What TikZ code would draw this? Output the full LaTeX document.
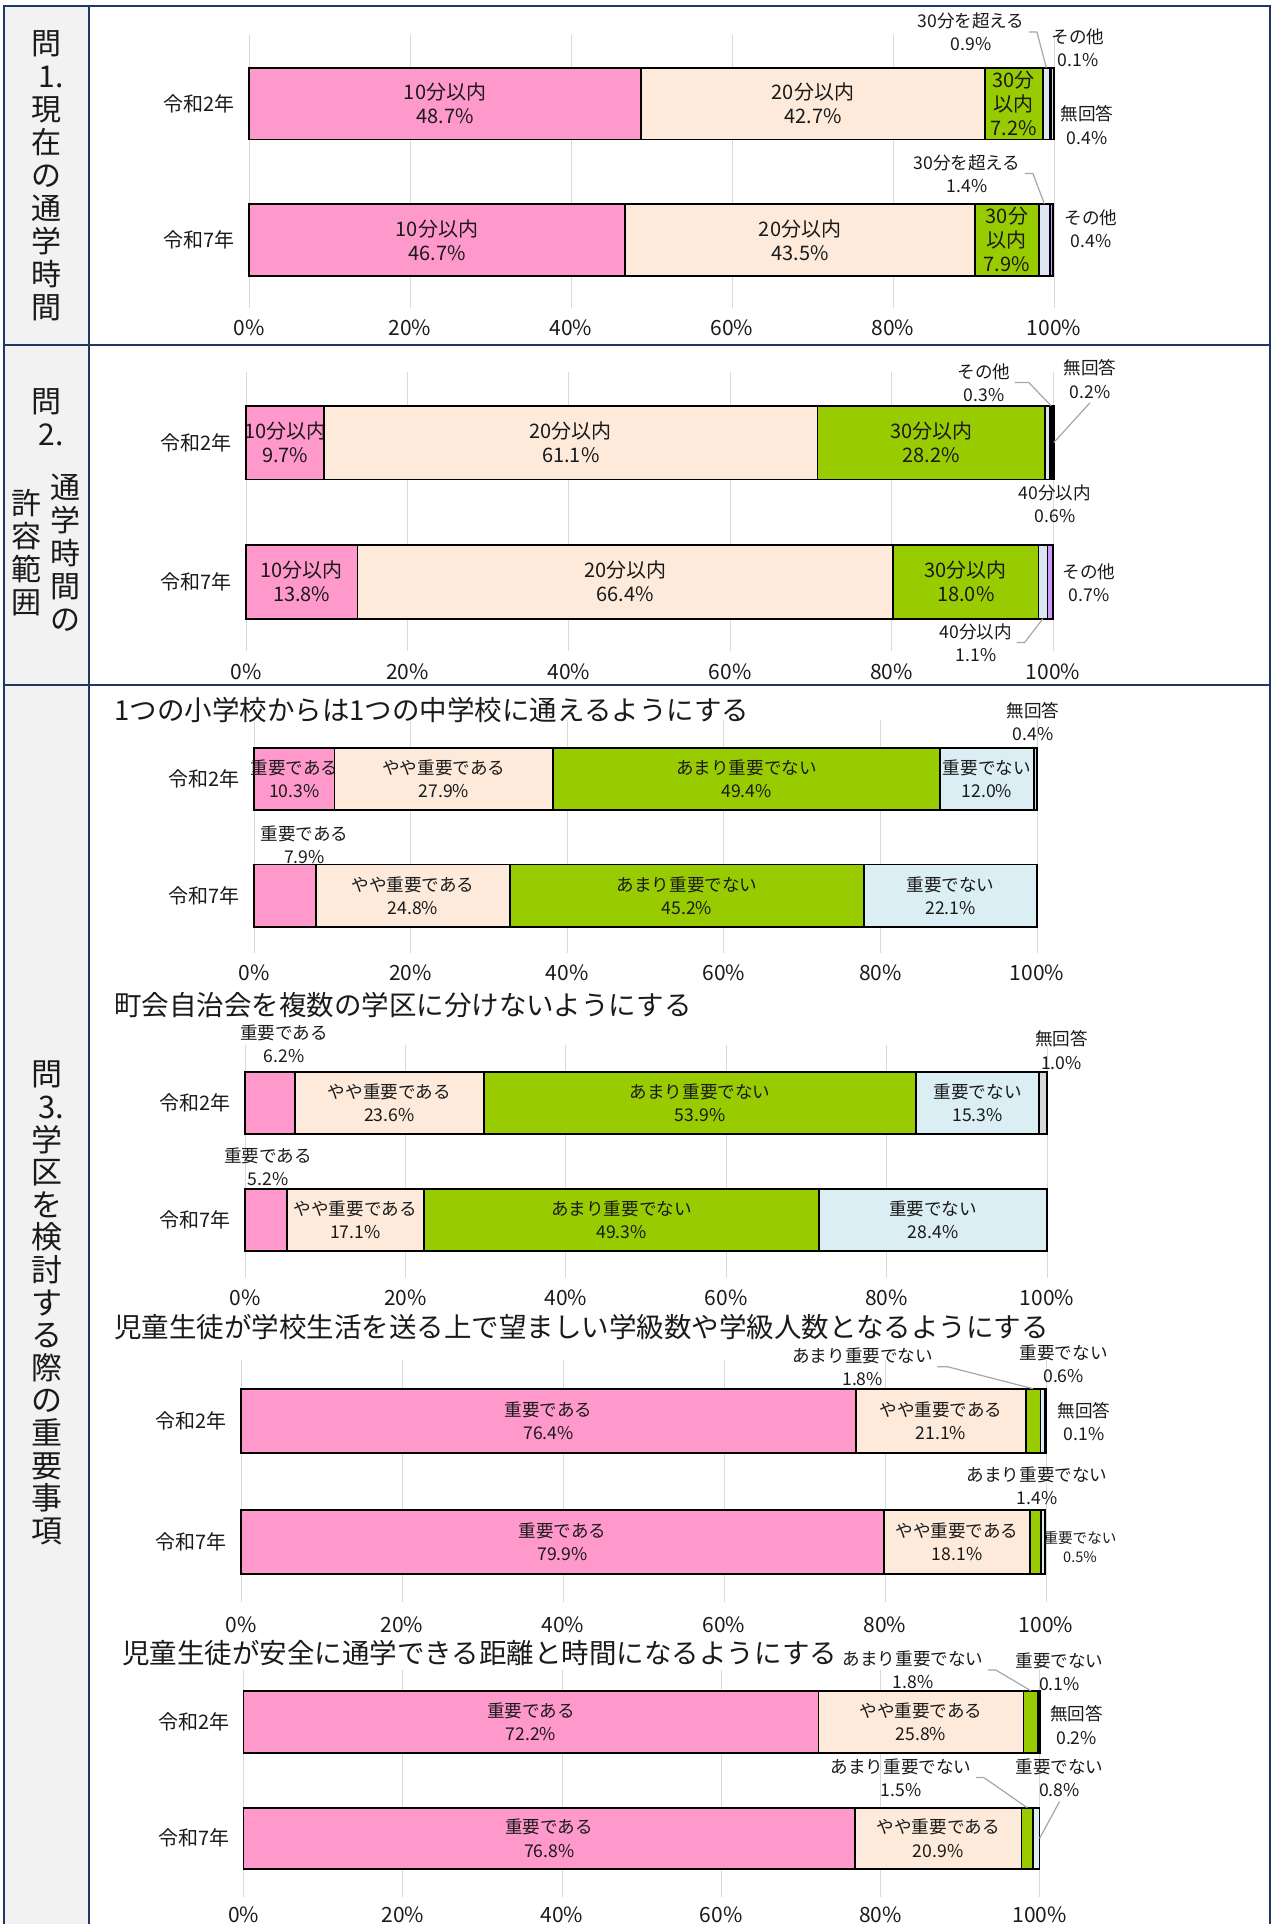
\documentclass[tikz,border=0pt]{standalone}
\usepackage{fontspec}
\setmainfont{Noto Sans CJK JP}

\definecolor{cpink}{HTML}{FF99CC}
\definecolor{cpeach}{HTML}{FDEADA}
\definecolor{cgreen}{HTML}{99CC00}
\definecolor{cgray}{HTML}{DCE6F2}
\definecolor{cblue}{HTML}{DAEEF3}
\definecolor{cpurple}{HTML}{CC99FF}
\definecolor{cnone}{HTML}{D9D9D9}
\definecolor{cframe}{HTML}{1F3864}
\definecolor{cside}{HTML}{F2F2F2}
\definecolor{cgrid}{HTML}{D9D9D9}
\definecolor{cleader}{HTML}{A6A6A6}
\definecolor{ctext}{HTML}{1A1A1A}

\tikzset{
  frameline/.style={draw=cframe, line width=1.4pt},
  gridline/.style={draw=cgrid, line width=0.5pt},
  segbox/.style={draw=black, line width=0.8pt},
  insidefont/.style={font=\fontsize{10}{12}\selectfont},
  seglabel/.style={insidefont, align=center, inner sep=1pt, text=ctext},
  outlabel/.style={font=\fontsize{8.8}{11.7}\selectfont, align=center, inner sep=2pt, text=ctext},
  catlabel/.style={font=\fontsize{10}{12}\selectfont, anchor=east, inner sep=0pt, text=ctext},
  axislabel/.style={font=\fontsize{10.5}{12}\selectfont, inner sep=0pt, text=ctext},
  titlelabel/.style={font=\fontsize{13.75}{16}\selectfont, anchor=west, inner sep=0pt, text=ctext},
  sidelabel/.style={font=\fontsize{15}{16.5}\selectfont, align=center, inner sep=0pt, text=ctext},
  leader/.style={draw=cleader, line width=0.6pt},
}

% grid lines and 0%...100% under one chart: name, x0, width, grid top, grid bottom, label y
\newcommand{\axisgrid}[6]{%
  \foreach \pc in {0,20,...,100} {
    \draw[gridline] ({#2+#3/100*\pc},#4) -- ({#2+#3/100*\pc},#5);
    \node[axislabel] (#1-ax\pc) at ({#2+#3/100*\pc},#6) {\pc\%};
  }%
}

% one stacked bar: name, x0, width, top, bottom, list value/colour/text
\newcommand{\stackbar}[6]{%
  \gdef\cum{0}%
  \foreach \val/\col/\txt [count=\i] in {#6} {
    \pgfmathsetmacro\segL{#2+#3/100*\cum}
    \pgfmathsetmacro\segR{#2+#3/100*(\cum+\val)}
    \draw[segbox, fill=\col] (\segL,#4) rectangle (\segR,#5);
    \coordinate (#1-\i) at ({(\segL+\segR)/2},#4);
    \coordinate (#1-\i b) at ({(\segL+\segR)/2},#5);
    \coordinate (#1-\i e) at (\segR,{(#4+#5)/2});
    \node[seglabel] (#1-t\i) at ({(\segL+\segR)/2},{(#4+#5)/2}) {\txt};
    \pgfmathsetmacro\nc{\cum+\val}
    \global\let\cum\nc
  }%
}

\begin{document}
\begin{tikzpicture}[x=0.5pt,y=-0.5pt]
\useasboundingbox (0,0) rectangle (1273,1924);

% frame and side column
\fill[cside] (4,6) rectangle (89,1930);
\draw[frameline] (4,1930) -- (4,6) -- (1270,6) -- (1270,1930);
\draw[frameline] (89,6) -- (89,1930);
\draw[frameline] (4,345) -- (1270,345);
\draw[frameline] (4,685) -- (1270,685);

\node[sidelabel] (q1) at (47,176) {問\\1\rlap{.}\\現\\在\\の\\通\\学\\時\\間};
\node[sidelabel] (q2) at (47,417) {問\\2\rlap{.}};
\node[sidelabel] (q2r) at (65,553) {通\\学\\時\\間\\の};
\node[sidelabel] (q2l) at (26,553) {許\\容\\範\\囲};
\node[sidelabel, font=\fontsize{15.5}{16.3}\selectfont] (q3) at (47,1303) {問\\3\rlap{.}\\学\\区\\を\\検\\討\\す\\る\\際\\の\\重\\要\\事\\項};

% Q1
\axisgrid{s1}{249}{805}{35}{308}{328}
\node[catlabel] (s1a-cat) at (235,103.5) {令和2年};
\node[catlabel] (s1b-cat) at (235,240) {令和7年};
\stackbar{s1a}{249}{805}{67.7}{139.3}{48.7/cpink/10分以内\\48.7\%, 42.7/cpeach/20分以内\\42.7\%, 7.2/cgreen/30分\\以内\\7.2\%, 0.9/cgray/{}, 0.1/cpurple/{}, 0.4/cnone/{}}
\stackbar{s1b}{249}{805}{203.7}{276}{46.7/cpink/10分以内\\46.7\%, 43.5/cpeach/20分以内\\43.5\%, 7.9/cgreen/30分\\以内\\7.9\%, 1.4/cgray/{}, 0.4/cpurple/{}}
\node[outlabel] (s1a-over) at (971,32) {30分を超える\\0.9\%};
\node[outlabel] (s1a-etc) at (1078,48) {その他\\0.1\%};
\node[outlabel] (s1a-na) at (1087,125) {無回答\\0.4\%};
\node[outlabel] (s1b-over) at (967,173.5) {30分を超える\\1.4\%};
\node[outlabel] (s1b-etc) at (1091,228.5) {その他\\0.4\%};
\draw[leader] (s1a-over.east) -- ++(8,0) -- (s1a-4);
\draw[leader] (s1b-over.east) -- ++(8,0) -- (s1b-4);

% Q2
\axisgrid{s2}{246}{807}{372}{651}{672}
\node[catlabel] (s2a-cat) at (232,442.5) {令和2年};
\node[catlabel] (s2b-cat) at (232,581.7) {令和7年};
\stackbar{s2a}{246}{807}{405.7}{479.3}{9.7/cpink/10分以内\\9.7\%, 61.1/cpeach/20分以内\\61.1\%, 28.2/cgreen/30分以内\\28.2\%, 0.6/cgray/{}, 0.3/cpurple/{}, 0.2/cnone/{}}
\stackbar{s2b}{246}{807}{544.7}{618.7}{13.8/cpink/10分以内\\13.8\%, 66.4/cpeach/20分以内\\66.4\%, 18.0/cgreen/30分以内\\18.0\%, 1.1/cgray/{}, 0.7/cpurple/{}}
\node[outlabel] (s2a-etc) at (984,382.5) {その他\\0.3\%};
\node[outlabel] (s2a-na) at (1090,379) {無回答\\0.2\%};
\node[outlabel] (s2a-40) at (1055,504) {40分以内\\0.6\%};
\node[outlabel] (s2b-etc) at (1089,582.5) {その他\\0.7\%};
\node[outlabel] (s2b-40) at (976,642.5) {40分以内\\1.1\%};
\draw[leader] (s2a-etc.east) -- ++(14,0) -- (s2a-5);
\draw[leader] (s2a-na.south) -- (s2a-6e);
\draw[leader] (s2b-40.east) -- ++(8,0) -- (s2b-4b);

% Q3
\begin{scope}[insidefont/.style={font=\fontsize{8.8}{11.7}\selectfont}]
\node[titlelabel] (ta) at (114,710) {1つの小学校からは1つの中学校に通えるようにする};
\axisgrid{ca}{254}{783}{720}{953}{973}
\node[catlabel] (aa-cat) at (240,779) {令和2年};
\node[catlabel] (ab-cat) at (240,895.5) {令和7年};
\stackbar{aa}{254}{783}{748}{809.7}{10.3/cpink/重要である\\10.3\%, 27.9/cpeach/やや重要である\\27.9\%, 49.4/cgreen/あまり重要でない\\49.4\%, 12.0/cblue/重要でない\\12.0\%, 0.4/cnone/{}}
\stackbar{ab}{254}{783}{864.3}{926.7}{7.9/cpink/{}, 24.8/cpeach/やや重要である\\24.8\%, 45.2/cgreen/あまり重要でない\\45.2\%, 22.1/cblue/重要でない\\22.1\%}
\node[outlabel] (aa-na) at (1033,721.7) {無回答\\0.4\%};
\node[outlabel] (ab-imp) at (304.5,845) {重要である\\7.9\%};

\node[titlelabel] (tb) at (114,1005) {町会自治会を複数の学区に分けないようにする};
\axisgrid{cb}{245}{802}{1045}{1278}{1298}
\node[catlabel] (ba-cat) at (231,1102.8) {令和2年};
\node[catlabel] (bb-cat) at (231,1220) {令和7年};
\stackbar{ba}{245}{802}{1071.7}{1134}{6.2/cpink/{}, 23.6/cpeach/やや重要である\\23.6\%, 53.9/cgreen/あまり重要でない\\53.9\%, 15.3/cblue/重要でない\\15.3\%, 1.0/cnone/{}}
\stackbar{bb}{245}{802}{1189}{1251}{5.2/cpink/{}, 17.1/cpeach/やや重要である\\17.1\%, 49.3/cgreen/あまり重要でない\\49.3\%, 28.4/cblue/重要でない\\28.4\%}
\node[outlabel] (ba-imp) at (284,1044) {重要である\\6.2\%};
\node[outlabel] (ba-na) at (1061.5,1050) {無回答\\1.0\%};
\node[outlabel] (bb-imp) at (268,1166.7) {重要である\\5.2\%};

\node[titlelabel] (tc) at (114,1326.7) {児童生徒が学校生活を送る上で望ましい学級数や学級人数となるようにする};
\axisgrid{cc}{241}{805}{1360}{1602}{1625}
\node[catlabel] (ca-cat) at (227,1420.8) {令和2年};
\node[catlabel] (cb-cat) at (227,1542) {令和7年};
\stackbar{ca}{241}{805}{1388.7}{1453}{76.4/cpink/重要である\\76.4\%, 21.1/cpeach/やや重要である\\21.1\%, 1.8/cgreen/{}, 0.6/cblue/{}, 0.1/cnone/{}}
\stackbar{cb}{241}{805}{1510}{1574}{79.9/cpink/重要である\\79.9\%, 18.1/cpeach/やや重要である\\18.1\%, 1.4/cgreen/{}, 0.5/cblue/{}}
\node[outlabel] (ca-lit) at (862.6,1366.7) {あまり重要でない\\1.8\%};
\node[outlabel] (ca-not) at (1063.6,1364) {重要でない\\0.6\%};
\node[outlabel] (ca-na) at (1084,1421.7) {無回答\\0.1\%};
\node[outlabel] (cb-lit) at (1037,1486) {あまり重要でない\\1.4\%};
\node[outlabel, font=\fontsize{7.3}{9.4}\selectfont] (cb-not) at (1080,1547) {重要でない\\0.5\%};
\draw[leader] (ca-lit.east) -- ++(10,0) -- (ca-3);

\node[titlelabel] (td) at (122,1653) {児童生徒が安全に通学できる距離と時間になるようにする};
\axisgrid{cd}{243.6}{796}{1670}{1897}{1915}
\node[catlabel] (da-cat) at (230,1721.7) {令和2年};
\node[catlabel] (db-cat) at (230,1838.3) {令和7年};
\stackbar{da}{243.6}{796}{1690.7}{1752.7}{72.2/cpink/重要である\\72.2\%, 25.8/cpeach/やや重要である\\25.8\%, 1.8/cgreen/{}, 0.1/cblue/{}, 0.2/cnone/{}}
\stackbar{db}{243.6}{796}{1807.7}{1869}{76.8/cpink/重要である\\76.8\%, 20.9/cpeach/やや重要である\\20.9\%, 1.5/cgreen/{}, 0.8/cblue/{}}
\node[outlabel] (da-lit) at (913,1670) {あまり重要でない\\1.8\%};
\node[outlabel] (da-not) at (1059.5,1671.5) {重要でない\\0.1\%};
\node[outlabel] (da-na) at (1076.6,1725) {無回答\\0.2\%};
\node[outlabel] (db-lit) at (901,1777.5) {あまり重要でない\\1.5\%};
\node[outlabel] (db-not) at (1059.5,1778) {重要でない\\0.8\%};
\draw[leader] (da-lit.east) -- ++(8,0) -- (da-3);
\draw[leader] (db-lit.east) -- ++(8,0) -- (db-3);
\draw[leader] (db-not.south) -- (db-4e);
\end{scope}
\end{tikzpicture}
\end{document}
